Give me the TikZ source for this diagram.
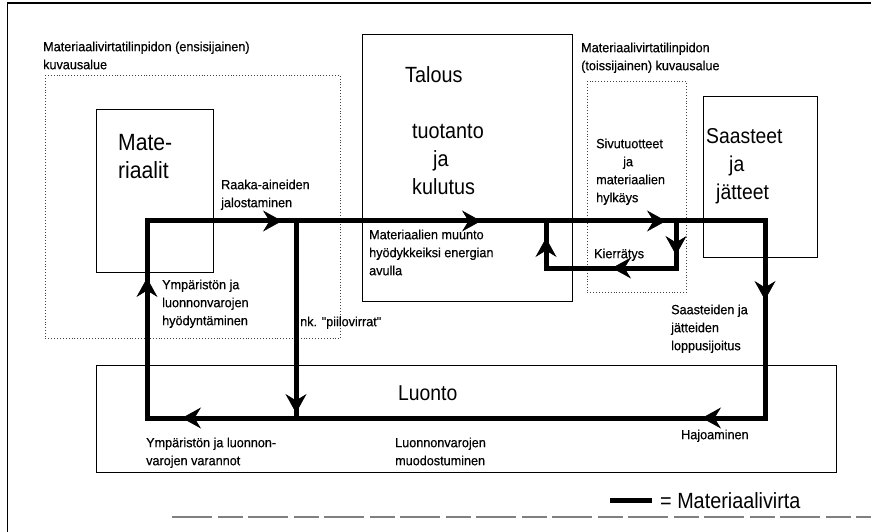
\documentclass[tikz,border=0pt]{standalone}
\usepackage{fontspec}
\setmainfont{Liberation Sans}
\newfontfamily\bigfont[FakeStretch=0.9]{Liberation Sans}
\newfontfamily\smallfont[FakeStretch=0.95,FakeBold=0.4]{Liberation Sans}
\usetikzlibrary{arrows.meta,decorations.markings}
\tikzset{flowtip/.tip={Stealth[length=19pt,width=21pt,inset=6.5pt,line width=0.6pt]}}
\begin{document}
\begin{tikzpicture}[x=1pt,y=-1pt,
  box/.style={draw, line width=1.1pt, anchor=north west, inner sep=0pt, minimum width=#1},
  dotbox/.style={draw, black!75, dotted, line width=0.9pt, anchor=north west, inner sep=0pt, minimum width=#1},
  lbl/.style={anchor=north west, inner sep=0pt, align=left, font=\smallfont\fontsize{13.3}{18}\selectfont},
  big/.style={anchor=north west, inner sep=0pt, align=left, font=\bigfont\fontsize{#1}{28}\selectfont},
  flow/.style={line width=5pt, line join=miter},
  frame/.style={line width=1.6pt}
]
\useasboundingbox (0,0) rectangle (871,532);

% outer frame
\coordinate (f1) at (7.5,532);
\coordinate (f2) at (7.5,3);
\coordinate (f3) at (871,3);
\coordinate (b1) at (172,517);
\coordinate (b2) at (871,517);
\draw[frame] (f1) -- (f2) -- (f3);
\draw[gray, line width=1.2pt, dash pattern=on 40pt off 6pt on 25pt off 5pt] (b1) -- (b2);

% dotted regions
\node[dotbox=295pt, minimum height=263pt] (reg1) at (45,75) {};
\node[dotbox=99pt, minimum height=211pt] (reg2) at (587,81) {};
\node[lbl] (reg1lbl) at (43,38.4) {\strut Materiaalivirtatilinpidon (ensisijainen)\\kuvausalue};
\node[lbl] (reg2lbl) at (581,39.4) {\strut Materiaalivirtatilinpidon\\(toissijainen) kuvausalue};

% boxes
\node[box=117pt, minimum height=163pt] (mat) at (96,109) {};
\node[box=210pt, minimum height=267pt] (tal) at (362,34) {};
\node[box=114pt, minimum height=161pt] (saa) at (703,96) {};
\node[box=740pt, minimum height=107pt] (luo) at (96,365) {};

% box texts
\node[big=23.5] (matt) at (118,130.4) {\strut Mate-\\riaalit};
\node[big=22] (talt) at (405,62.4) {\strut Talous};
\node[big=22] (tuot) at (412,118.4) {\strut tuotanto\\\hspace*{21pt}ja\\kulutus};
\node[big=21.5] (saat) at (706,123.4) {\strut Saasteet\\\hspace*{23pt}ja\\\hspace*{10pt}jätteet};
\node[big=21.5] (luot) at (398,380.4) {\strut Luonto};

% labels
\node[lbl] (l1) at (221,176.4) {\strut Raaka-aineiden\\jalostaminen};
\node[lbl] (l2) at (369,226.4) {\strut Materiaalien muunto\\hyödykkeiksi energian\\avulla};
\node[lbl] (l3) at (596,135.4) {\strut Sivutuotteet\\\hspace*{27pt}ja\\materiaalien\\hylkäys};
\node[lbl] (l4) at (594,245.4) {\strut Kierrätys};
\node[lbl] (l5) at (162,276.4) {\strut Ympäristön ja\\luonnonvarojen\\hyödyntäminen};
\node[lbl] (l6) at (300,313.4) {\strut nk. "piilovirrat"};
\node[lbl] (l7) at (671,301.4) {\strut Saasteiden ja\\jätteiden\\loppusijoitus};
\node[lbl] (l8) at (146,434.4) {\strut Ympäristön ja luonnon-\\varojen varannot};
\node[lbl] (l9) at (395,434.4) {\strut Luonnonvarojen\\muodostuminen};
\node[lbl] (l10) at (681,426.4) {\strut Hajoaminen};

% flow coordinates
\coordinate (TL) at (147,221);
\coordinate (TR) at (765,221);
\coordinate (BR) at (765,418);
\coordinate (BL) at (147,418);
\coordinate (MT) at (296,221);
\coordinate (MB) at (296,418);
\coordinate (RT) at (676,221);
\coordinate (RB) at (676,268);
\coordinate (LB) at (546,268);
\coordinate (LT) at (546,221);

% main loop
\draw[flow, postaction={decorate}, decoration={markings,
  mark=at position 135pt with {\arrow{flowtip}},
  mark=at position 334pt with {\arrow{flowtip}},
  mark=at position 519pt with {\arrow{flowtip}},
  mark=at position 697pt with {\arrow{flowtip}},
  mark=at position 878pt with {\arrow{flowtip}},
  mark=at position 1398pt with {\arrow{flowtip}},
  mark=at position 1573pt with {\arrow{flowtip}}}]
  (TL) -- (TR) -- (BR) -- (BL) -- cycle;

% hidden flows
\draw[flow, postaction={decorate}, decoration={markings,
  mark=at position 192pt with {\arrow{flowtip}}}]
  (MT) -- (MB);

% recycling loop
\draw[flow, postaction={decorate}, decoration={markings,
  mark=at position 34pt with {\arrow{flowtip}},
  mark=at position 111pt with {\arrow{flowtip}},
  mark=at position 207pt with {\arrow{flowtip}}}]
  (RT) -- (RB) -- (LB) -- (LT);

% legend
\coordinate (lg1) at (610,500);
\coordinate (lg2) at (652,500);
\draw[flow] (lg1) -- (lg2);
\node[anchor=base west, inner sep=0pt, font=\bigfont\fontsize{22}{26}\selectfont] (legt) at (660,508) {= Materiaalivirta};
\end{tikzpicture}
\end{document}
